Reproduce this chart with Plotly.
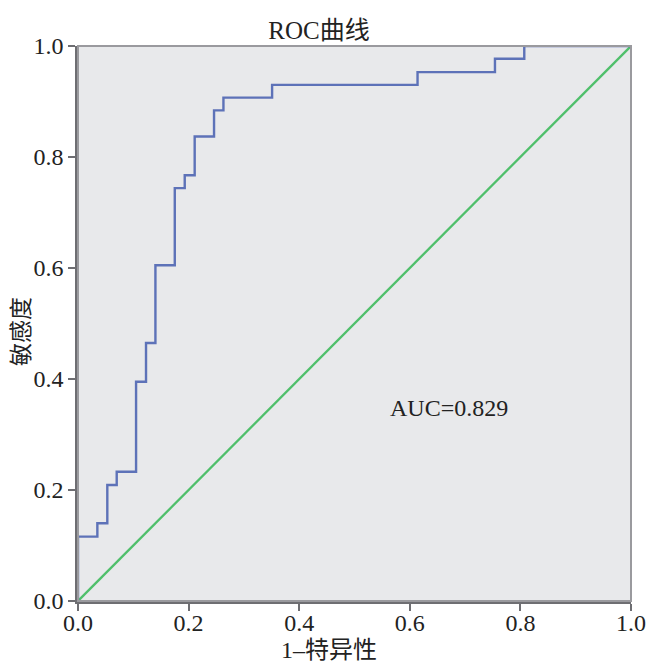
import plotly.graph_objects as go

# ROC curve points (1-specificity, sensitivity)
fpr = [0.0, 0.0, 0.035, 0.053, 0.070, 0.105, 0.123, 0.140, 0.175, 0.193,
       0.211, 0.246, 0.263, 0.351, 0.614, 0.754, 0.807, 1.0]
tpr = [0.0, 0.116, 0.140, 0.209, 0.233, 0.395, 0.465, 0.605, 0.744, 0.767,
       0.837, 0.884, 0.907, 0.930, 0.953, 0.977, 1.0, 1.0]
ref_x = [0.0, 1.0]
ref_y = [0.0, 1.0]
tick_vals = [0.0, 0.2, 0.4, 0.6, 0.8, 1.0]
tick_text = ["0.0", "0.2", "0.4", "0.6", "0.8", "1.0"]
auc_text = "AUC=0.829"
x_title = "1–特异性"
y_title = "敏感度"
chart_title = "ROC曲线"

FONT = "Liberation Serif, Times New Roman, Noto Sans CJK SC, serif"
CJK = "Liberation Serif, Noto Sans CJK SC, sans-serif"

fig = go.Figure()
fig.add_trace(go.Scatter(x=ref_x, y=ref_y, mode="lines",
                         line=dict(color="#4fbf6b", width=2.3), hoverinfo="skip"))
fig.add_trace(go.Scatter(x=fpr, y=tpr, mode="lines", line_shape="hv",
                         line=dict(color="#5d72b8", width=2.4)))

fig.add_shape(type="rect", xref="paper", yref="paper", x0=0, y0=0, x1=1, y1=1,
              line=dict(color="#9a9a9e", width=2), layer="above")

fig.add_annotation(x=0.56, y=0.348, xref="x", yref="y", text=auc_text,
                   showarrow=False, xanchor="left", yanchor="middle",
                   font=dict(family=FONT, size=24, color="#222"))

fig.add_annotation(x=0.454, y=-0.088, xref="paper", yref="paper", text=x_title,
                   showarrow=False, xanchor="center", yanchor="middle",
                   font=dict(family=CJK, size=24, color="#222"))
fig.add_annotation(x=-0.101, y=0.485, xref="paper", yref="paper", text=y_title,
                   showarrow=False, xanchor="center", yanchor="middle", textangle=-90,
                   font=dict(family=CJK, size=23, color="#222"))

axis_common = dict(
    range=[0, 1], tickvals=tick_vals, ticktext=tick_text,
    showgrid=False, zeroline=False, automargin=False,
    showline=True, linecolor="#6e6e72", linewidth=2.5,
    ticks="outside", ticklen=7, tickwidth=2, tickcolor="#6e6e72",
    tickfont=dict(family=FONT, size=24, color="#222"),
)

fig.update_layout(
    width=647, height=662,
    margin=dict(l=78, r=16, t=46, b=61),
    paper_bgcolor="white", plot_bgcolor="#e8e9eb",
    showlegend=False,
    title=dict(text=chart_title, x=0.493, xref="container", xanchor="center",
               y=0.955, yanchor="middle",
               font=dict(family=CJK, size=25, color="#222")),
    xaxis=dict(**axis_common, ticklabelstandoff=-9),
    yaxis=dict(**axis_common),
)

# remove the default page margin so the 647x662 figure fills the window
fig.write_html("out.html",
               config={"displayModeBar": False},
               post_script="document.body.style.margin='0';document.body.style.overflow='hidden';")
